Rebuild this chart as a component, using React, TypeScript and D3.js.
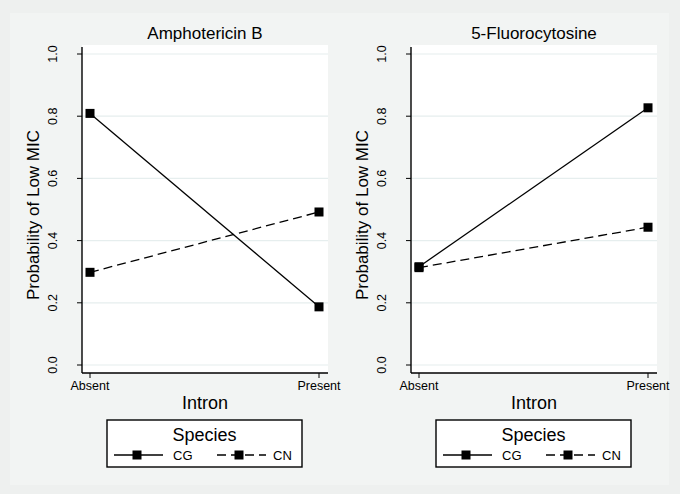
import * as d3 from "d3";

const introns = ["Absent", "Present"];
const species = ["CG", "CN"];
const drugs = ["Amphotericin B", "5-Fluorocytosine"];
// probability of low MIC, per drug, per species, per intron state
const amphoCG = [0.809, 0.187];
const amphoCN = [0.298, 0.492];
const fluoroCG = [0.316, 0.827];
const fluoroCN = [0.313, 0.443];
const yTicks = [0, 0.2, 0.4, 0.6, 0.8, 1.0];

const panelData = [
  [amphoCG, amphoCN],
  [fluoroCG, fluoroCN],
];
const dashes = [null, "9 5"];

const font = "'Liberation Sans', Arial, sans-serif";
const W = 680;
const H = 494;
const panelShift = 329;

function Panel({ title, series, dx }: { title: string; series: number[][]; dx: number }) {
  const left = 82;
  const right = 328;
  const top = 45;
  const axisY = 373;

  const x = d3.scalePoint<string>().domain(introns).range([90, 319]);
  const y = d3.scaleLinear().domain([0, 1]).range([365, 54]);
  const line = d3
    .line<number>()
    .x((_, i) => x(introns[i]) ?? 0)
    .y((d) => y(d));

  const mid = (left + right) / 2;

  return (
    <g transform={`translate(${dx},0)`}>
      <rect x={left} y={top} width={right - left} height={axisY - top} fill="#ffffff" />

      {/* gridlines */}
      {yTicks.map((t) => (
        <line key={t} x1={left} x2={right} y1={y(t)} y2={y(t)} stroke="#e6eeee" strokeWidth={1.2} />
      ))}

      {/* axes */}
      <line x1={left} x2={left} y1={top + 2} y2={axisY} stroke="#000" strokeWidth={1.4} />
      <line x1={left} x2={right} y1={axisY} y2={axisY} stroke="#000" strokeWidth={1.4} />
      {yTicks.map((t) => (
        <g key={t}>
          <line x1={left - 5} x2={left} y1={y(t)} y2={y(t)} stroke="#000" strokeWidth={1} />
          <text
            transform={`translate(56.5,${y(t)}) rotate(-90)`}
            textAnchor="middle"
            fontSize={12.5}
            fontFamily={font}
          >
            {t.toFixed(1)}
          </text>
        </g>
      ))}
      {introns.map((c) => (
        <g key={c}>
          <line x1={x(c)} x2={x(c)} y1={axisY} y2={axisY + 5} stroke="#000" strokeWidth={1} />
          <text x={x(c)} y={axisY + 17} textAnchor="middle" fontSize={12.5} fontFamily={font}>
            {c}
          </text>
        </g>
      ))}

      <text x={mid} y={39} textAnchor="middle" fontSize={17} fontFamily={font}>
        {title}
      </text>
      <text
        transform={`translate(39,${(top + axisY) / 2 + 6}) rotate(-90)`}
        textAnchor="middle"
        fontSize={17}
        fontFamily={font}
      >
        Probability of Low MIC
      </text>
      <text x={mid} y={409} textAnchor="middle" fontSize={18} fontFamily={font}>
        Intron
      </text>

      {/* series */}
      {series.map((vals, si) => (
        <g key={si}>
          <path
            d={line(vals) ?? ""}
            fill="none"
            stroke="#000"
            strokeWidth={1.3}
            strokeDasharray={dashes[si] ?? undefined}
          />
          {vals.map((v, i) => (
            <rect
              key={i}
              x={(x(introns[i]) ?? 0) - 4.5}
              y={y(v) - 4.5}
              width={9}
              height={9}
              fill="#000"
            />
          ))}
        </g>
      ))}

      {/* legend */}
      <rect x={107} y={420} width={195} height={47} fill="#fff" stroke="#000" strokeWidth={1.4} />
      <text x={204.5} y={441} textAnchor="middle" fontSize={18} fontFamily={font}>
        Species
      </text>
      {species.map((s, si) => {
        const lx = 114 + si * 103;
        return (
          <g key={s}>
            <line
              x1={lx}
              x2={lx + 49}
              y1={455}
              y2={455}
              stroke="#000"
              strokeWidth={1.3}
              strokeDasharray={dashes[si] ?? undefined}
            />
            <rect x={lx + (si === 0 ? 23 : 22) - 4.5} y={450.5} width={9} height={9} fill="#000" />
            <text x={lx + (si === 0 ? 59 : 56)} y={459.5} fontSize={13} fontFamily={font}>
              {s}
            </text>
          </g>
        );
      })}
    </g>
  );
}

export default function App() {
  return (
    <svg
      width={W}
      height={H}
      style={{ position: "absolute", left: 0, top: 0, display: "block" }}
    >
      <rect width={W} height={H} fill="#eef0ef" />
      {/* panel backgrounds first so labels are never covered */}
      {drugs.map((d, i) => (
        <rect key={d} x={10 + i * panelShift} y={13} width={330} height={472} fill="#f2f4f3" />
      ))}
      {drugs.map((d, i) => (
        <Panel key={d} title={d} series={panelData[i]} dx={i * panelShift} />
      ))}
    </svg>
  );
}
